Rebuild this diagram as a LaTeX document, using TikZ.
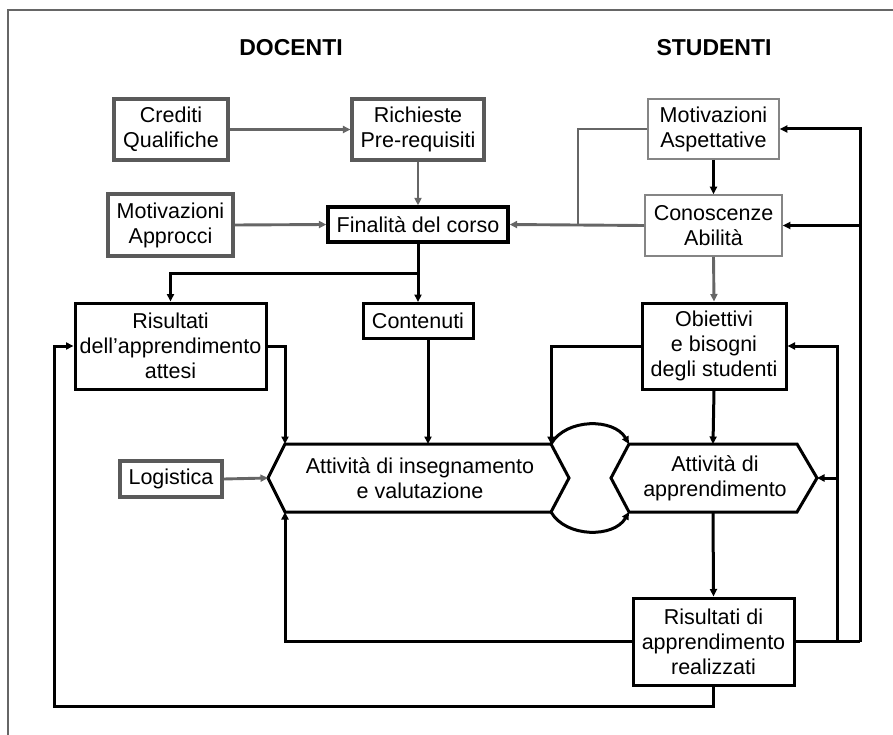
\documentclass[tikz,border=0pt]{standalone}
\usepackage{fontspec}
\setmainfont{Liberation Sans}
\usetikzlibrary{arrows.meta,calc}
\definecolor{gline}{HTML}{666666}
\definecolor{gbox}{HTML}{5A5A5A}
\definecolor{lbox}{HTML}{858585}
\begin{document}
\begin{tikzpicture}[x=1pt,y=-1pt,
  every node/.style={font=\fontsize{21.5}{25}\selectfont, align=center, inner sep=0pt},
  bbox/.style={draw=black, line width=3pt, fill=white},
  gboxs/.style={draw=gbox, line width=3.1pt, fill=white},
  lboxs/.style={draw=lbox, line width=1.6pt, fill=white},
  conn/.style={draw=black, line width=3pt, -{Triangle[length=7.5pt,width=7pt]}},
  plain/.style={draw=black, line width=3pt},
  gconn/.style={draw=gline, line width=2.9pt, -{Triangle[length=7.5pt,width=7pt]}},
  gplain/.style={draw=gline, line width=2.9pt},
  hexs/.style={draw=black, line width=3pt, line join=miter},
  title/.style={font=\fontsize{23}{27}\selectfont\bfseries}
]
\useasboundingbox (0,0) rectangle (893,735);
% frame
\draw[gline, line width=2pt] (893,10) -- (8,10) -- (8,735);

% titles
\node[title] (tdoc) at (291,48) {DOCENTI};
\node[title] (tstu) at (714,48) {STUDENTI};

% boxes
\node[gboxs, minimum width=114pt, minimum height=61pt] (cred) at (171,129.5) {Crediti\\Qualifiche};
\node[gboxs, minimum width=132pt, minimum height=61pt] (rich) at (418,129.5) {Richieste\\Pre-requisiti};
\node[lboxs, minimum width=131pt, minimum height=60pt] (motA) at (713.5,129) {Motivazioni\\Aspettative};
\node[gboxs, minimum width=125pt, minimum height=62pt] (motB) at (170.5,225) {Motivazioni\\Approcci};
\node[bbox, line width=3.3pt, minimum width=180pt, minimum height=35pt] (fin) at (418,224.5) {Finalità del corso};
\node[lboxs, minimum width=137pt, minimum height=61pt] (con) at (713.5,225.5) {Conoscenze\\Abilità};
\node[bbox, minimum width=191pt, minimum height=86pt] (ris) at (170.5,346) {Risultati\\dell’apprendimento\\attesi};
\node[bbox, minimum width=110pt, minimum height=35pt] (cont) at (418,321) {Contenuti};
\node[bbox, minimum width=144pt, minimum height=86pt] (obi) at (714,346) {Obiettivi\\e bisogni\\degli studenti};
\node[gboxs, minimum width=102pt, minimum height=36pt] (log) at (171,479) {Logistica};
\node[bbox, minimum width=161pt, minimum height=87pt] (rr) at (713.5,641.5) {Risultati di\\apprendimento\\realizzati};

% hexagons
\coordinate (hLP) at (268,478);
\coordinate (hTL) at (285,444);
\coordinate (hTR) at (551,444);
\coordinate (hN) at (569,478);
\coordinate (hBR) at (551,512);
\coordinate (hBL) at (285,512);
\coordinate (hC) at (428,444);
\draw[hexs] (hLP) -- (hTL) -- (hTR) -- (hN) -- (hBR) -- (hBL) -- cycle;
\node (tL) at (420,478) {Attività di insegnamento\\e valutazione};

\coordinate (rTL) at (629,444);
\coordinate (rTR) at (797,444);
\coordinate (rP) at (817,478);
\coordinate (rBR) at (797,512);
\coordinate (rBL) at (629,512);
\coordinate (rN) at (611,478);
\coordinate (rT) at (713,444);
\coordinate (rB) at (713,512);
\draw[hexs] (rTL) -- (rTR) -- (rP) -- (rBR) -- (rBL) -- (rN) -- cycle;
\node (tR) at (715,478) {Attività di\\apprendimento};

% gray connectors (top)
\draw[gconn] (cred.east) -- (rich.west);
\draw[gconn] (rich.south) -- (fin.north);
\draw[gconn] (motB.east) -- (fin.west);
\draw[gconn] (con.west) -- (fin.east);
\coordinate (j1) at (578,225);
\draw[gplain] (motA.west) -| (j1);
\draw[gconn] (con.south) -- (obi.north);
\draw[gconn] (log.east) -- (hLP);

% black connectors
\draw[conn] (motA.south) -- (con.north);
\coordinate (b1) at (418,273);
\draw[conn] (fin.south) -- (cont.north);
\draw[conn] (b1) -| (ris.north);
\draw[conn] (ris.east) -| (hTL);
\draw[conn] (cont.south -| hC) -- (hC);
\draw[conn] (obi.west) -| (hTR);
\draw[conn] (obi.south) -- (rT);
\draw[conn] (hTR) .. controls (566,418) and (614,418) .. (rTL);
\draw[conn] (hBR) .. controls (566,538) and (614,538) .. (rBL);
\draw[conn] (rB) -- (rr.north);
\draw[conn] (rr.west) -| (hBL);

% right feedback
\coordinate (f1) at (860,641.5);
\coordinate (f2) at (837,641.5);
\draw[plain] (rr.east) -- (f1);
\draw[conn] (f1) |- (motA.east);
\draw[conn] (f1 |- con.east) -- (con.east);
\draw[conn] (f2) |- (obi.east);
\draw[conn] (f2 |- rP) -- (rP);

% bottom feedback
\coordinate (f3) at (713.5,706);
\coordinate (f4) at (54,706);
\draw[conn] (rr.south) -- (f3) -- (f4) |- (ris.west);
\end{tikzpicture}
\end{document}
